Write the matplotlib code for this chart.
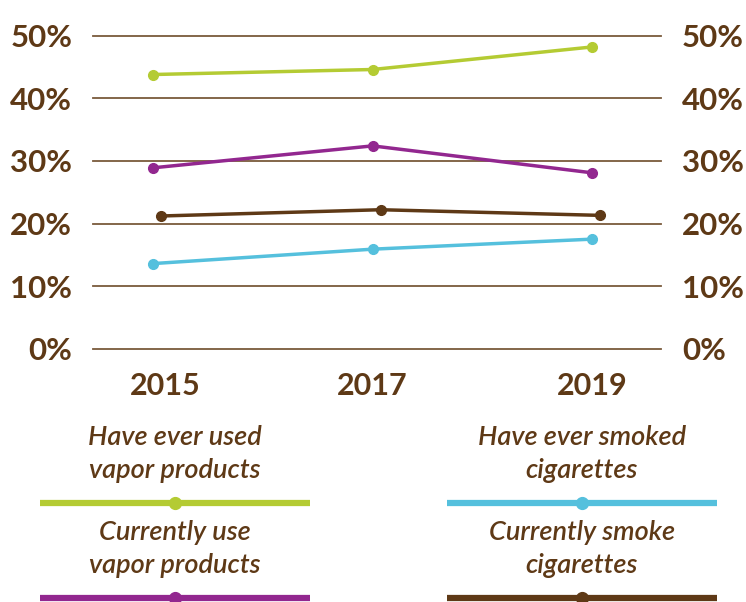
# Vapor product and cigarette use, 2015-2019

import matplotlib.pyplot as plt
from matplotlib.lines import Line2D
import matplotlib.transforms as mtransforms

plt.rcParams['font.family'] = ['Lato', 'DejaVu Sans']

# Data
years = [2015, 2017, 2019]
ever_vapor = [43.8, 44.6, 48.2]
current_vapor = [28.9, 32.4, 28.1]
ever_cig = [13.6, 15.9, 17.5]
current_cig = [21.2, 22.2, 21.3]
y_ticks = [0, 10, 20, 30, 40, 50]
y_labels = ["0%", "10%", "20%", "30%", "40%", "50%"]

labels = ["Have ever used\nvapor products", "Have ever smoked\ncigarettes",
          "Currently use\nvapor products", "Currently smoke\ncigarettes"]

green = "#b4cb33"
purple = "#92278f"
blue = "#55c0dd"
brown = "#5e3916"
grid_c = "#7a5a3c"

fig = plt.figure(figsize=(7.46, 6.02), dpi=100)
ax = fig.add_axes([93 / 746, 1 - 348.7 / 602, (661 - 93) / 746, (348.7 - 35.7) / 602])

ax.set_xlim(2014.45, 2019.63)
ax.set_ylim(0, 50)

for y in y_ticks:
    ax.axhline(y, color=grid_c, lw=1.3, zorder=1, clip_on=False)

series = [(ever_vapor, green), (current_vapor, purple), (ever_cig, blue)]
for vals, c in series:
    ax.plot(years, vals, color=c, lw=2.5, marker="o", ms=7, zorder=3, clip_on=False)

# brown series sits a bit to the right of the others in the original
shift = ax.transData + mtransforms.ScaledTranslation(8 / 100, 0, fig.dpi_scale_trans)
ax.plot(years, current_cig, color=brown, lw=2.5, marker="o", ms=7, zorder=3,
        clip_on=False, transform=shift)

for s in ax.spines.values():
    s.set_visible(False)

ax.set_yticks(y_ticks)
ax.set_yticklabels(y_labels)
ax.set_xticks(years)
ax.set_xticklabels([str(y) for y in years])
ax.tick_params(axis="y", length=0, pad=15, labelsize=22.5, labelcolor=brown,
               labelright=True)
ax.tick_params(axis="x", length=0, pad=17, labelsize=22, labelcolor=brown)
for t in ax.get_yticklabels() + ax.get_xticklabels():
    t.set_fontweight("bold")
# first year label is drawn a little right of its point in the original
xl = ax.get_xticklabels()[0]
xl.set_transform(xl.get_transform() + mtransforms.ScaledTranslation(12 / 100, 0, fig.dpi_scale_trans))

# Legend, drawn by hand: text above a thick line with a dot in the middle
legend_colors = [green, blue, purple, brown]
cols = [(40, 310), (447, 717)]
rows = [(438, 470, 503), (533, 565, 598)]
for i, (lab, c) in enumerate(zip(labels, legend_colors)):
    x0, x1 = cols[i % 2]
    t1, t2, ly = rows[i // 2]
    xc = (x0 + x1) / 2
    fig.text(xc / 746, 1 - (t1 + t2) / 2 / 602, lab, ha="center", va="center",
             fontsize=19.5, style="italic", weight="semibold", color=brown,
             linespacing=1.38)
    fig.add_artist(Line2D([x0 / 746, x1 / 746], [1 - ly / 602, 1 - ly / 602],
                          color=c, lw=4.5, solid_capstyle="butt"))
    fig.add_artist(Line2D([xc / 746], [1 - ly / 602], color=c, marker="o", ms=8.5))

fig.savefig("out.png", dpi=100)
